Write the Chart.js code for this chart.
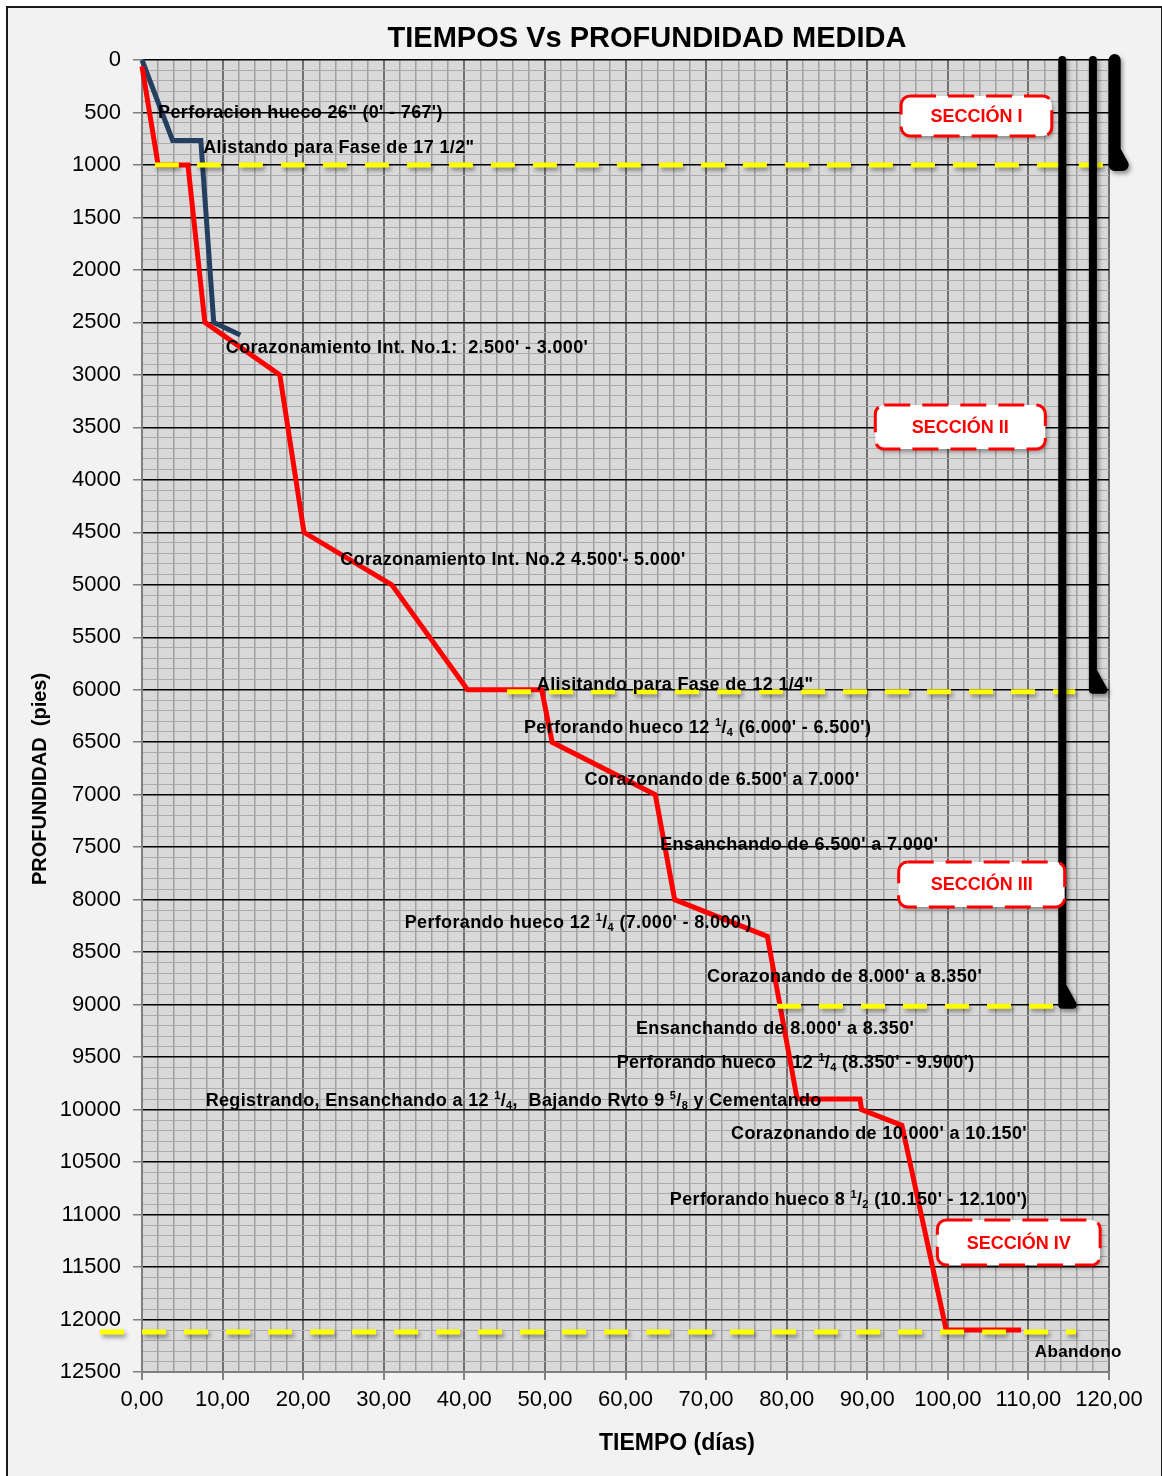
<!DOCTYPE html>
<html>
<head>
<meta charset="utf-8">
<script src="https://cdn.jsdelivr.net/npm/chart.js@4/dist/chart.umd.min.js"></script>
<style>
html, body { margin: 0; padding: 0; background: #fff; overflow: hidden; }
#marco { position: absolute; left: 6px; top: 6px; width: 1153px; height: 1480px; border: 2px solid #1a1a1a; background: #f2f2f2; }
#caja { position: absolute; left: 0; top: 0; width: 1162px; height: 1476px; }
</style>
</head>
<body>
<div id="marco"></div>
<div id="caja"><canvas id="grafico" width="1162" height="1476"></canvas></div>
<script>
// curva real (roja)
const realDias = [0, 2.0, 5.7, 7.8, 17.1, 20.1, 31.0, 40.4, 49.6, 50.9, 63.7, 66.1, 77.6, 81.3, 89.1, 89.3, 94.3, 99.8, 109.1];
const realProf = [60, 1000, 1000, 2500, 3000, 4500, 5000, 6000, 6000, 6500, 7000, 8000, 8350, 9900, 9900, 10000, 10150, 12100, 12100];

// curva planeada (azul)
const planDias = [0, 3.8, 7.3, 8.9, 12.2];
const planProf = [0, 767, 767, 2500, 2620];

// revestimientos (lineas negras con zapata)
const rev1Dias = [114.2, 114.2, 115.5, 114.2];
const rev1Prof = [0, 9000, 9000, 8820];
const rev2Dias = [118.0, 118.0, 119.3, 118.0];
const rev2Prof = [0, 6000, 6000, 5820];
const rev3Dias = [120.7, 120.7, 121.7, 120.7];
const rev3Prof = [0, 1000, 1000, 860];

// lineas amarillas de cambio de fase
const fase1Dias = [1.6, 119.3];   const fase1Prof = [1000, 1000];
const fase2Dias = [45.3, 115.8];  const fase2Prof = [6020, 6020];
const fase3Dias = [78.8, 113.1];  const fase3Prof = [9015, 9015];
const fase4Dias = [-5.2, 115.9];  const fase4Prof = [12120, 12120];

// textos dentro del grafico (x en dias, y en pies)
const etiquetas = [
    { texto: `Perforacion hueco 26" (0' - 767')`, x: 2.0, y: 505 },
    { texto: `Alistando para Fase de 17 1/2"`, x: 7.6, y: 838 },
    { texto: `Corazonamiento Int. No.1:  2.500' - 3.000'`, x: 10.4, y: 2744 },
    { texto: `Corazonamiento Int. No.2 4.500'- 5.000'`, x: 24.6, y: 4764 },
    { texto: `Alisitando para Fase de 12 1/4"`, x: 49.0, y: 5955 },
    { texto: `Perforando hueco 12 ^1/_4 (6.000' - 6.500')`, x: 47.4, y: 6364 },
    { texto: `Corazonando de 6.500' a 7.000'`, x: 54.9, y: 6860 },
    { texto: `Ensanchando de 6.500' a 7.000'`, x: 64.3, y: 7479 },
    { texto: `Perforando hueco 12 ^1/_4 (7.000' - 8.000')`, x: 32.6, y: 8222 },
    { texto: `Corazonando de 8.000' a 8.350'`, x: 70.1, y: 8737 },
    { texto: `Ensanchando de 8.000' a 8.350'`, x: 61.3, y: 9232 },
    { texto: `Perforando hueco   12 ^1/_4 (8.350' - 9.900')`, x: 58.9, y: 9556 },
    { texto: `Registrando, Ensanchando a 12 ^1/_4,  Bajando Rvto 9 ^5/_8 y Cementando`, x: 7.9, y: 9918 },
    { texto: `Corazonando de 10.000' a 10.150'`, x: 73.1, y: 10233 },
    { texto: `Perforando hueco 8 ^1/_2 (10.150' - 12.100')`, x: 65.5, y: 10861 },
    { texto: `Abandono`, x: 110.8, y: 12310, tam: 17 }
];

// recuadros de seccion
const secciones = [
    { texto: 'SECCIÓN I', x0: 94.2, x1: 112.9, y0: 343, y1: 724 },
    { texto: 'SECCIÓN II', x0: 91.0, x1: 112.1, y0: 3287, y1: 3706 },
    { texto: 'SECCIÓN III', x0: 93.9, x1: 114.5, y0: 7641, y1: 8070 },
    { texto: 'SECCIÓN IV', x0: 98.7, x1: 118.9, y0: 11052, y1: 11481 }
];

const titulo = 'TIEMPOS Vs PROFUNDIDAD MEDIDA';
const tituloX = 'TIEMPO (días)';
const tituloY = 'PROFUNDIDAD  (pies)';

const fam = "'Liberation Sans', Arial, sans-serif";

function puntos(xs, ys) {
    return xs.map((v, i) => ({ x: v, y: ys[i] }));
}

function serie(xs, ys, color, ancho, extra) {
    return Object.assign({
        data: puntos(xs, ys),
        showLine: true,
        borderColor: color,
        backgroundColor: color,
        borderWidth: ancho,
        pointRadius: 0,
        tension: 0,
        clip: false
    }, extra || {});
}

function textoRico(ctx, s, x, y, tam) {
    let cx = x;
    let buf = '';
    const vaciar = () => {
        if (!buf) return;
        ctx.font = `bold ${tam}px ${fam}`;
        ctx.fillText(buf, cx, y);
        cx += ctx.measureText(buf).width;
        buf = '';
    };
    let i = 0;
    while (i < s.length) {
        const ch = s[i];
        if ((ch === '^' || ch === '_') && i + 1 < s.length) {
            vaciar();
            ctx.font = `bold ${Math.round(tam * 0.6)}px ${fam}`;
            const dy = ch === '^' ? -tam * 0.3 : tam * 0.28;
            ctx.fillText(s[i + 1], cx, y + dy);
            cx += ctx.measureText(s[i + 1]).width;
            i += 2;
        } else {
            buf += ch;
            i++;
        }
    }
    vaciar();
}

function rectRedondo(ctx, x, y, w, h, r) {
    ctx.beginPath();
    ctx.moveTo(x + r, y);
    ctx.lineTo(x + w - r, y);
    ctx.arcTo(x + w, y, x + w, y + r, r);
    ctx.lineTo(x + w, y + h - r);
    ctx.arcTo(x + w, y + h, x + w - r, y + h, r);
    ctx.lineTo(x + r, y + h);
    ctx.arcTo(x, y + h, x, y + h - r, r);
    ctx.lineTo(x, y + r);
    ctx.arcTo(x, y, x + r, y, r);
    ctx.closePath();
}

const fondo = {
    id: 'fondo',
    beforeDraw(chart) {
        const { ctx, chartArea: a } = chart;
        ctx.save();
        ctx.fillStyle = '#d9d9d9';
        ctx.fillRect(a.left, a.top, a.width, a.height);
        ctx.restore();
    }
};

const sombra = {
    id: 'sombra',
    beforeDatasetDraw(chart, args) {
        if (!chart.data.datasets[args.index].sombra) return;
        const ctx = chart.ctx;
        ctx.save();
        ctx.shadowColor = 'rgba(0,0,0,0.4)';
        ctx.shadowBlur = 4;
        ctx.shadowOffsetX = 2;
        ctx.shadowOffsetY = 3;
    },
    afterDatasetDraw(chart, args) {
        if (chart.data.datasets[args.index].sombra) chart.ctx.restore();
    }
};

const textos = {
    id: 'textos',
    afterDatasetsDraw(chart) {
        const ctx = chart.ctx;
        const sx = chart.scales.x, sy = chart.scales.y;
        ctx.save();
        ctx.textBaseline = 'middle';
        ctx.textAlign = 'left';
        ctx.fillStyle = '#000';
        ctx.letterSpacing = '0.35px';
        etiquetas.forEach(e => {
            textoRico(ctx, e.texto, sx.getPixelForValue(e.x), sy.getPixelForValue(e.y), e.tam || 18);
        });
        ctx.letterSpacing = '0px';
        secciones.forEach(s => {
            const x0 = sx.getPixelForValue(s.x0), x1 = sx.getPixelForValue(s.x1);
            const y0 = sy.getPixelForValue(s.y0), y1 = sy.getPixelForValue(s.y1);
            ctx.save();
            ctx.shadowColor = 'rgba(0,0,0,0.35)';
            ctx.shadowBlur = 4;
            ctx.shadowOffsetX = 2;
            ctx.shadowOffsetY = 3;
            rectRedondo(ctx, x0, y0, x1 - x0, y1 - y0, 9);
            ctx.fillStyle = '#fff';
            ctx.fill();
            ctx.shadowColor = 'rgba(0,0,0,0)';
            ctx.setLineDash([26, 12]);
            ctx.lineWidth = 3;
            ctx.strokeStyle = '#ff0000';
            ctx.stroke();
            ctx.setLineDash([]);
            ctx.fillStyle = '#ff0000';
            ctx.font = `bold 18px ${fam}`;
            ctx.textAlign = 'center';
            ctx.fillText(s.texto, (x0 + x1) / 2, (y0 + y1) / 2 + 1);
            ctx.restore();
        });
        ctx.restore();
    },
    afterDraw(chart) {
        const ctx = chart.ctx;
        ctx.save();
        ctx.fillStyle = '#000';
        ctx.textAlign = 'center';
        ctx.textBaseline = 'middle';
        ctx.font = `bold 29px ${fam}`;
        ctx.fillText(titulo, 647, 39);
        ctx.font = `bold 23px ${fam}`;
        ctx.fillText(tituloX, 677, 1444);
        ctx.translate(40, 779);
        ctx.rotate(-Math.PI / 2);
        ctx.font = `bold 20px ${fam}`;
        ctx.fillText(tituloY, 0, 0);
        ctx.restore();
    }
};

const esMayorX = c => c.tick && Math.round(c.tick.value) % 10 === 0;
const esMayorY = c => c.tick && Math.round(c.tick.value) % 500 === 0;

new Chart(document.getElementById('grafico'), {
    type: 'scatter',
    data: {
        datasets: [
            serie(rev1Dias, rev1Prof, '#000', 8, { sombra: true, borderJoinStyle: 'round' }),
            serie(rev2Dias, rev2Prof, '#000', 8, { sombra: true, borderJoinStyle: 'round' }),
            serie(rev3Dias, rev3Prof, '#000', 12, { sombra: true, borderJoinStyle: 'round' }),
            serie(fase1Dias, fase1Prof, '#ffff00', 5, { sombra: true, borderDash: [24, 18] }),
            serie(fase2Dias, fase2Prof, '#ffff00', 5, { sombra: true, borderDash: [24, 18] }),
            serie(fase3Dias, fase3Prof, '#ffff00', 5, { sombra: true, borderDash: [24, 18] }),
            serie(fase4Dias, fase4Prof, '#ffff00', 5, { sombra: true, borderDash: [24, 18] }),
            serie(realDias, realProf, '#ff0000', 5),
            serie(planDias, planProf, '#243f60', 5)
        ]
    },
    options: {
        responsive: false,
        animation: false,
        layout: { padding: { left: 0, right: 53, top: 60, bottom: 0 } },
        plugins: {
            legend: { display: false },
            tooltip: { enabled: false },
            title: { display: false }
        },
        scales: {
            x: {
                type: 'linear',
                min: 0,
                max: 120,
                afterFit: s => { s.height = 104; },
                ticks: {
                    stepSize: 2,
                    autoSkip: false,
                    maxRotation: 0,
                    minRotation: 0,
                    padding: 7,
                    color: '#000',
                    font: { family: fam, size: 22 },
                    callback: v => (Math.round(v) % 10 === 0 ? v.toFixed(2).replace('.', ',') : '')
                },
                grid: {
                    color: c => esMayorX(c) ? '#707070' : '#a0a0a0',
                    lineWidth: c => esMayorX(c) ? 2 : 1.5,
                    tickLength: 8,
                    tickColor: c => esMayorX(c) ? '#808080' : 'rgba(0,0,0,0)'
                },
                border: { color: '#808080', width: 2 }
            },
            y: {
                type: 'linear',
                reverse: true,
                min: 0,
                max: 12500,
                afterFit: s => { s.width = 142; },
                ticks: {
                    stepSize: 100,
                    autoSkip: false,
                    padding: 12,
                    color: '#000',
                    font: { family: fam, size: 22 },
                    callback: v => (Math.round(v) % 500 === 0 ? String(v) : '')
                },
                grid: {
                    color: c => esMayorY(c) ? '#000' : '#ababab',
                    lineWidth: c => esMayorY(c) ? 1.5 : 1,
                    tickLength: 9,
                    tickColor: c => esMayorY(c) ? '#808080' : 'rgba(0,0,0,0)'
                },
                border: { color: '#808080', width: 2 }
            }
        }
    },
    plugins: [fondo, sombra, textos]
});
</script>
</body>
</html>
